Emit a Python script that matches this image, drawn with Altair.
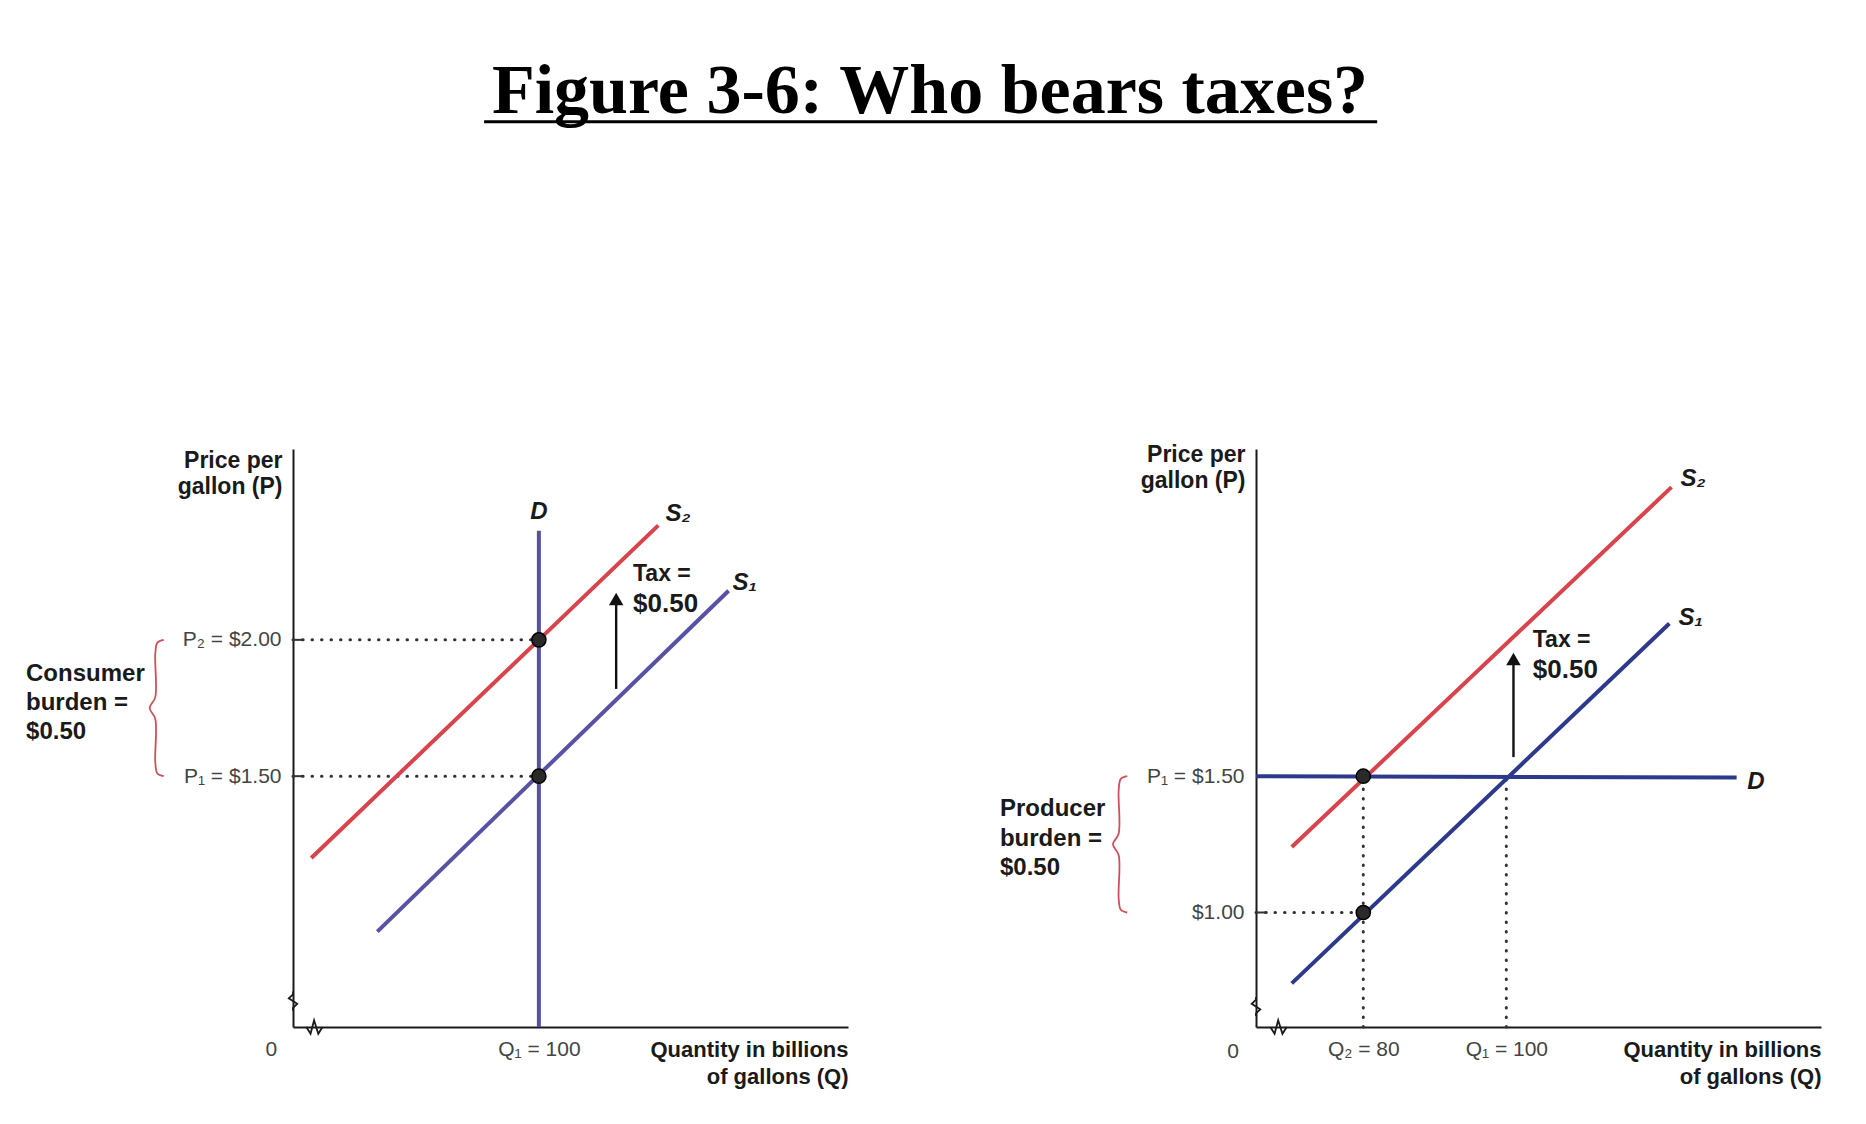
import altair as alt
import pandas as pd

SANS = "Liberation Sans, Arial, sans-serif"
SERIF = "Liberation Serif, Times New Roman, serif"
TITLE = "Figure 3-6: Who bears taxes?"

X_DOMAIN = [65, 144]
Y_DOMAIN = [0.58, 2.70]
PANEL_H = 578
LEFT_W = 555
RIGHT_W = 565

RED = "#d8434c"
BLUE_L = "#5752a4"
BLUE_R = "#2d3a8c"

# ---------------- left panel: consumer burden ----------------
L_S1_Q = [77.0, 127.0]
L_S1_P = [0.93, 2.18]
L_S2_Q = [67.6, 117.0]
L_S2_P = [1.20, 2.42]
L_D_Q = [100, 100]
L_D_P = [0.58, 2.40]
L_EQ_Q = [100, 100]
L_EQ_P = [2.00, 1.50]
L_Y_TICKS = [1.50, 2.00]
L_Y_LABELS = ["P₁ = $1.50", "P₂ = $2.00"]
L_X_TICKS = [100]
L_X_LABELS = ["Q₁ = 100"]
L_ARROW_Q = 111.0
L_ARROW_P = [1.82, 2.18]
L_TAX_Q = 113.4
L_TAX_P = [2.24, 2.13]
L_CURVE_TXT = ["D", "S₂", "S₁"]
L_CURVE_Q = [100.0, 119.8, 129.3]
L_CURVE_P = [2.47, 2.46, 2.21]
L_BURDEN_TXT = ["Consumer", "burden =", "$0.50"]
L_BURDEN_Q = 27.0
L_BURDEN_P = [1.875, 1.768, 1.662]
L_BRACE_Q = [46.6, 45.7, 45.4, 45.4, 44.6, 45.4, 45.4, 45.7, 46.6]
L_BRACE_P = [2.00, 1.99, 1.95, 1.79, 1.75, 1.71, 1.55, 1.51, 1.50]
L_ZERO = (61.9, 0.495)
L_ZIG_Y_Q = [65.0, 65.0, 64.4, 65.6, 65.0, 65.0]
L_ZIG_Y_P = [0.71, 0.70, 0.685, 0.665, 0.65, 0.64]
L_ZIG_X_Q = [66.9, 67.5, 68.0, 68.6, 69.2]
L_ZIG_X_P = [0.58, 0.555, 0.605, 0.555, 0.58]

# ---------------- right panel: producer burden ----------------
R_S1_Q = [70.0, 122.8]
R_S1_P = [0.74, 2.06]
R_S2_Q = [70.0, 123.1]
R_S2_P = [1.24, 2.56]
R_D_Q = [65.0, 132.2]
R_D_P = [1.50, 1.495]
R_EQ_Q = [80, 80]
R_EQ_P = [1.50, 1.00]
R_Y_TICKS = [1.00, 1.50]
R_Y_LABELS = ["$1.00", "P₁ = $1.50"]
R_X_TICKS = [80, 100]
R_X_LABELS = ["Q₂ = 80", "Q₁ = 100"]
R_ARROW_Q = 101.0
R_ARROW_P = [1.57, 1.96]
R_TAX_Q = 103.7
R_TAX_P = [2.00, 1.89]
R_CURVE_TXT = ["D", "S₂", "S₁"]
R_CURVE_Q = [134.9, 126.1, 125.8]
R_CURVE_P = [1.48, 2.59, 2.08]
R_BURDEN_TXT = ["Producer", "burden =", "$0.50"]
R_BURDEN_Q = 29.2
R_BURDEN_P = [1.379, 1.269, 1.163]
R_BRACE_Q = [47.0, 46.1, 45.8, 45.8, 45.0, 45.8, 45.8, 46.1, 47.0]
R_BRACE_P = [1.50, 1.49, 1.45, 1.29, 1.25, 1.21, 1.05, 1.01, 1.00]
R_ZERO = (61.8, 0.49)
R_ZIG_Y_Q = [65.0, 65.0, 64.4, 65.6, 65.0, 65.0]
R_ZIG_Y_P = [0.69, 0.68, 0.665, 0.645, 0.63, 0.62]
R_ZIG_X_Q = [67.0, 67.6, 68.1, 68.7, 69.3]
R_ZIG_X_P = [0.58, 0.555, 0.605, 0.555, 0.58]


def label_expr(ticks, labels):
    expr = "''"
    for t, l in zip(ticks, labels):
        expr = f"abs(datum.value - {t}) < 0.001 ? '{l}' : ({expr})"
    return expr


def seg_df(q, p):
    return pd.DataFrame({"q": q, "p": p, "i": list(range(len(q)))})


def make_panel(width, d, title_y):
    xenc = alt.X(
        "q:Q",
        scale=alt.Scale(domain=X_DOMAIN, nice=False, zero=False),
        axis=alt.Axis(
            values=d["xt"], labelExpr=label_expr(d["xt"], d["xl"]),
            ticks=False, tickSize=0, grid=False, labelPadding=11,
            labelFont=SANS, labelFontSize=21, labelColor="#444",
            domainColor="#1a1a1a", domainWidth=2,
            title=["Quantity in billions", "of gallons (Q)"],
            titleFont=SANS, titleFontSize=22, titleFontWeight="bold",
            titleColor="#1a1a1a", titleAlign="right", titleBaseline="top",
            titleAnchor="end", titleX=width, titleY=12, titleLineHeight=27,
        ),
    )
    yenc = alt.Y(
        "p:Q",
        scale=alt.Scale(domain=Y_DOMAIN, nice=False, zero=False),
        axis=alt.Axis(
            values=d["yt"], labelExpr=label_expr(d["yt"], d["yl"]),
            ticks=False, tickSize=0, grid=False, labelPadding=12,
            labelFont=SANS, labelFontSize=21, labelColor="#444",
            domainColor="#1a1a1a", domainWidth=2,
            title=["Price per", "gallon (P)"],
            titleFont=SANS, titleFontSize=23, titleFontWeight="bold",
            titleColor="#1a1a1a", titleAngle=0, titleAlign="right",
            titleBaseline="top", titleX=-11, titleY=title_y, titleLineHeight=26,
        ),
    )

    def line(q, p, **kw):
        return alt.Chart(seg_df(q, p)).mark_line(**kw).encode(
            x=xenc, y=yenc, order="i:Q")

    layers = []
    # dotted guide lines
    for q, p in d["dots"]:
        layers.append(line(q, p, color="#333", strokeWidth=3,
                           strokeDash=[0.5, 9], strokeCap="round"))
    # short solid ticks at the axis
    for p in d["solid_ticks"]:
        layers.append(line([X_DOMAIN[0], X_DOMAIN[0] + 1.6], [p, p],
                           color="#333", strokeWidth=2))
    # curves
    for q, p, c in d["curves"]:
        layers.append(line(q, p, color=c, strokeWidth=4))
    # zigzag breaks
    layers.append(line(d["zy"][0], d["zy"][1], color="#1a1a1a", strokeWidth=1.8))
    layers.append(line(d["zx"][0], d["zx"][1], color="#1a1a1a", strokeWidth=1.8))
    # brace
    layers.append(line(d["brace"][0], d["brace"][1], color="#d0505a",
                       strokeWidth=1.8, interpolate="catmull-rom"))
    # arrow
    aq, ap = d["arrow"]
    layers.append(line([aq, aq], [ap[0], ap[1] - 0.03], color="#111", strokeWidth=2.4))
    layers.append(alt.Chart(pd.DataFrame({"q": [aq], "p": [ap[1] - 0.03]}))
                  .mark_point(shape="triangle-up", filled=True, size=210,
                              color="#111", opacity=1)
                  .encode(x=xenc, y=yenc))
    # equilibrium dots
    layers.append(alt.Chart(pd.DataFrame({"q": d["eq"][0], "p": d["eq"][1]}))
                  .mark_point(filled=True, size=200, color="#2a2a2a",
                              stroke="#000", strokeWidth=1.5, opacity=1)
                  .encode(x=xenc, y=yenc))

    def text(qs, ps, ts, **kw):
        df = pd.DataFrame({"q": qs, "p": ps, "t": ts})
        return alt.Chart(df).mark_text(**kw).encode(x=xenc, y=yenc, text="t:N")

    tq = d["tax"][0]
    layers.append(text([tq], [d["tax"][1][0]], ["Tax ="], font=SANS, fontSize=23,
                       fontWeight="bold", align="left", baseline="middle", color="#1a1a1a"))
    layers.append(text([tq], [d["tax"][1][1]], ["$0.50"], font=SANS, fontSize=26,
                       fontWeight="bold", align="left", baseline="middle", color="#1a1a1a"))
    cq, cp, ct = d["curve_lbl"]
    layers.append(text(cq, cp, ct, font=SANS, fontSize=24, fontWeight="bold",
                       fontStyle="italic", align="center", baseline="middle",
                       color="#1a1a1a"))
    bq, bp, bt = d["burden"]
    layers.append(text([bq] * len(bp), bp, bt, font=SANS, fontSize=24,
                       fontWeight="bold", align="left", baseline="middle",
                       color="#1a1a1a"))
    zq, zp = d["zero"]
    layers.append(text([zq], [zp], ["0"], font=SANS, fontSize=21, align="center",
                       baseline="middle", color="#444"))

    return alt.layer(*layers).properties(width=width, height=PANEL_H)


left = make_panel(LEFT_W, {
    "xt": L_X_TICKS, "xl": L_X_LABELS, "yt": L_Y_TICKS, "yl": L_Y_LABELS,
    "dots": [([X_DOMAIN[0], 100], [2.0, 2.0]), ([X_DOMAIN[0], 100], [1.5, 1.5])],
    "solid_ticks": [2.0, 1.5],
    "curves": [(L_S2_Q, L_S2_P, RED), (L_S1_Q, L_S1_P, BLUE_L), (L_D_Q, L_D_P, BLUE_L)],
    "zy": (L_ZIG_Y_Q, L_ZIG_Y_P), "zx": (L_ZIG_X_Q, L_ZIG_X_P),
    "brace": (L_BRACE_Q, L_BRACE_P),
    "arrow": (L_ARROW_Q, L_ARROW_P),
    "eq": (L_EQ_Q, L_EQ_P),
    "tax": (L_TAX_Q, L_TAX_P),
    "curve_lbl": (L_CURVE_Q, L_CURVE_P, L_CURVE_TXT),
    "burden": (L_BURDEN_Q, L_BURDEN_P, L_BURDEN_TXT),
    "zero": L_ZERO,
}, 0)

right = make_panel(RIGHT_W, {
    "xt": R_X_TICKS, "xl": R_X_LABELS, "yt": R_Y_TICKS, "yl": R_Y_LABELS,
    "dots": [([X_DOMAIN[0], 80], [1.0, 1.0]), ([80, 80], [Y_DOMAIN[0], 1.5]),
             ([100, 100], [Y_DOMAIN[0], 1.5])],
    "solid_ticks": [1.0],
    "curves": [(R_S2_Q, R_S2_P, RED), (R_S1_Q, R_S1_P, BLUE_R), (R_D_Q, R_D_P, BLUE_R)],
    "zy": (R_ZIG_Y_Q, R_ZIG_Y_P), "zx": (R_ZIG_X_Q, R_ZIG_X_P),
    "brace": (R_BRACE_Q, R_BRACE_P),
    "arrow": (R_ARROW_Q, R_ARROW_P),
    "eq": (R_EQ_Q, R_EQ_P),
    "tax": (R_TAX_Q, R_TAX_P),
    "curve_lbl": (R_CURVE_Q, R_CURVE_P, R_CURVE_TXT),
    "burden": (R_BURDEN_Q, R_BURDEN_P, R_BURDEN_TXT),
    "zero": R_ZERO,
}, -6)

# ---------------- title banner ----------------
BANNER_W = 1274
BANNER_H = 449
bx = alt.X("bx:Q", scale=alt.Scale(domain=[0, 1], nice=False, zero=False), axis=None)
by = alt.Y("by:Q", scale=alt.Scale(domain=[0, 1], nice=False, zero=False), axis=None)
title_text = alt.Chart(pd.DataFrame({"bx": [0.5], "by": [0.748], "t": [TITLE]})).mark_text(
    font=SERIF, fontSize=70, fontWeight="bold", align="center",
    baseline="alphabetic", color="#000").encode(x=bx, y=by, text="t:N")
underline = alt.Chart(pd.DataFrame({"bx": [0.150, 0.851], "by": [0.729, 0.729]})).mark_line(
    color="#000", strokeWidth=3).encode(x=bx, y=by)
banner = alt.layer(title_text, underline).properties(width=BANNER_W, height=BANNER_H)

panels = alt.hconcat(left, right, spacing=408, bounds="flush")
chart = alt.vconcat(banner, panels, spacing=0, bounds="flush").properties(
    padding={"left": 26, "top": 0, "right": 5, "bottom": 5},
    background="white",
).configure_view(stroke=None)

chart.save("out.html", embed_options={"renderer": "svg", "actions": False})
